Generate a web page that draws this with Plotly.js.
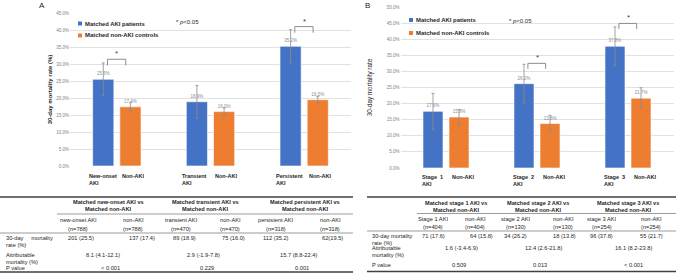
<!DOCTYPE html>
<html>
<head>
<meta charset="utf-8">
<script src="https://cdn.plot.ly/plotly-3.0.1.min.js"></script>
<style>html,body{margin:0;padding:0;background:#fff;}#chart{width:676px;height:278px;}</style>
</head>
<body>
<div id="chart"></div>
<script>
// ---------- DATA: panel A ----------
const catsA = [0, 1, 2];
const akiLabelsA = ['New-onset<br>AKI', 'Transient<br>AKI', 'Persistent<br>AKI'];
const ctrlLabelsA = ['Non-AKI', 'Non-AKI', 'Non-AKI'];
const akiA = [25.5, 18.9, 35.2];
const akiErrA = [4.8, 4.8, 4.9];
const ctrlA = [17.4, 16.0, 19.5];
const ctrlErrA = [1.2, 1.1, 1.0];
const bracketA = [31.4, null, 41.0];

// ---------- DATA: panel B ----------
const catsB = [0, 1, 2];
const akiLabelsB = ['Stage  1<br>AKI', 'Stage  2<br>AKI', 'Stage  3<br>AKI'];
const ctrlLabelsB = ['Non-AKI', 'Non-AKI', 'Non-AKI'];
const akiB = [17.6, 26.2, 37.8];
const akiErrB = [5.6, 6.0, 6.0];
const ctrlB = [15.8, 13.8, 21.7];
const ctrlErrB = [2.4, 2.6, 3.2];
const bracketB = [null, 32.5, 44.9];

const seriesNames = ['Matched AKI patients', 'Matched non-AKI controls'];
const sigNote = '* <i>p</i>&lt;0.05';

// ---------- DATA: tables ----------
const rowLabelsA = ['30-day&nbsp;&nbsp;&nbsp;&nbsp;&nbsp;mortality<br>rate (%)', 'Attributable<br>mortality (%)', 'P value'];
const rowLabelsB = ['30-day mortality<br>rate (%)', 'Attributable<br>mortality (%)', 'P value'];
const tblAHeaders = ['Matched new-onset AKI vs<br>Matched non-AKI', 'Matched transient AKI vs<br>Matched non-AKI', 'Matched persistent AKI vs<br>Matched non-AKI'];
const tblACols = ['new-onset AKI', 'non-AKI', 'transient AKI', 'non-AKI', 'persistent AKI', 'non-AKI'];
const tblANs = ['(n=788)', '(n=788)', '(n=470)', '(n=470)', '(n=318)', '(n=318)'];
const tblAMort = ['201 (25.5)', '137 (17.4)', '89 (18.9)', '75 (16.0)', '112 (35.2)', '62(19.5)'];
const tblAAttr = ['8.1 (4.1-12.1)', '2.9 (-1.9-7.8)', '15.7 (8.8-22.4)'];
const tblAP = ['&lt; 0.001', '0.229', '0.001'];
const tblBHeaders = ['Matched stage 1 AKI vs<br>Matched non-AKI', 'Matched stage 2 AKI vs<br>Matched non-AKI', 'Matched stage 3 AKI vs<br>Matched non-AKI'];
const tblBCols = ['Stage 1 AKI', 'non-AKI', 'stage 2 AKI', 'non-AKI', 'stage 3 AKI', 'non-AKI'];
const tblBNs = ['(n=404)', '(n=404)', '(n=130)', '(n=130)', '(n=254)', '(n=254)'];
const tblBMort = ['71 (17.6)', '64 (15.8)', '34 (26.2)', '18 (13.8)', '96 (37.8)', '55 (21.7)'];
const tblBAttr = ['1.6 (-3.4-6.9)', '12.4 (2.6-21.8)', '16.1 (8.2-23.8)'];
const tblBP = ['0.509', '0.013', '&lt; 0.001'];

// ---------- LAYOUT CONSTANTS ----------
const W = 676, H = 278;
const px = v => v / W;
const py = v => 1 - v / H;
const FONT = 'Liberation Sans, Arial, sans-serif';
const BLUE = '#4472C4', ORANGE = '#ED7D31';

const data = [];
function addBars(x, y, err, color, offset, width, xa, ya, name) {
  data.push({
    type: 'bar', x: x, y: y, xaxis: xa, yaxis: ya, name: name,
    width: width, offset: offset,
    marker: {color: color, line: {color: '#ffffff', width: 0.6}},
    error_y: {type: 'data', array: err, visible: true, color: '#8c8c8c', thickness: 0.8, width: 1.5},
    texttemplate: '%{y:.1f}%', textposition: 'outside', constraintext: 'none',
    textfont: {size: 4.5, color: '#8c8c8c', family: FONT},
    cliponaxis: false, showlegend: false, hoverinfo: 'x+y'
  });
}
addBars(catsA, akiA, akiErrA, BLUE, -0.258, 0.226, 'x', 'y', seriesNames[0]);
addBars(catsA, ctrlA, ctrlErrA, ORANGE, 0.032, 0.226, 'x', 'y', seriesNames[1]);
addBars(catsB, akiB, akiErrB, BLUE, -0.253, 0.22, 'x2', 'y2', seriesNames[0]);
addBars(catsB, ctrlB, ctrlErrB, ORANGE, 0.033, 0.22, 'x2', 'y2', seriesNames[1]);

const shapes = [];
const annotations = [];

function txt(x, y, text, o) {
  o = o || {};
  annotations.push(Object.assign({
    x: x, y: y, xref: 'paper', yref: 'paper', text: text, showarrow: false,
    xanchor: 'center', yanchor: 'middle', borderpad: 0,
    font: {family: FONT, size: 5.7, color: '#262626'}
  }, o));
}
// multi-line text positioned line by line (x,y in pixels)
function ml(xp, yp, text, step, o) {
  text.split('<br>').forEach((t, k) => txt(px(xp), py(yp + k * step), t, o));
}
function hline(x0, x1, y, w, c) {
  shapes.push({type: 'line', xref: 'paper', yref: 'paper', x0: px(x0), x1: px(x1), y0: py(y), y1: py(y),
    line: {color: c || '#404040', width: w}});
}

// significance brackets and stars
function brackets(vals, xa, ya, leg) {
  vals.forEach((h, i) => {
    if (h === null) return;
    const l = catsA[i] - 0.1, r = catsA[i] + 0.095;
    shapes.push({type: 'path', xref: xa, yref: ya,
      path: `M ${l},${h - leg} L ${l},${h} L ${r},${h} L ${r},${h - leg}`,
      line: {color: '#8c8c8c', width: 1}});
    annotations.push({x: catsA[i], y: h, xref: xa, yref: ya, text: '*', showarrow: false,
      yanchor: 'bottom', yshift: -1, font: {family: FONT, size: 8, color: '#404040'}});
  });
}
brackets(bracketA, 'x', 'y', 1.8);
brackets(bracketB, 'x2', 'y2', 1.7);

// category labels under bars
function catLabels(cats, akiL, ctrlL, xa, offA, offC, yTop) {
  const f = {family: FONT, size: 5.5, color: '#262626', weight: 'bold'};
  cats.forEach((c, i) => {
    annotations.push({x: c + offA, y: py(yTop), xref: xa, yref: 'paper', text: akiL[i], showarrow: false,
      xanchor: 'left', yanchor: 'top', align: 'left', borderpad: 0, font: f});
    annotations.push({x: c + offC, y: py(yTop), xref: xa, yref: 'paper', text: ctrlL[i], showarrow: false,
      xanchor: 'left', yanchor: 'top', align: 'left', borderpad: 0, font: f});
  });
}
catLabels(catsA, akiLabelsA, ctrlLabelsA, 'x', -0.31, 0.04, 172);
catLabels(catsB, akiLabelsB, ctrlLabelsB, 'x2', -0.27, 0.055, 173);

// manual legends
function legendItem(cx, cy, color, label) {
  shapes.push({type: 'rect', xref: 'paper', yref: 'paper', x0: px(cx - 2), x1: px(cx + 2), y0: py(cy + 2), y1: py(cy - 2),
    fillcolor: color, line: {width: 0}});
  txt(px(cx + 4), py(cy), label, {xanchor: 'left', font: {family: FONT, size: 5.9, color: '#262626', weight: 'bold'}});
}
legendItem(80, 23.5, BLUE, seriesNames[0]);
legendItem(80, 35.5, ORANGE, seriesNames[1]);
legendItem(411, 20, BLUE, seriesNames[0]);
legendItem(411, 33, ORANGE, seriesNames[1]);
txt(px(175), py(22.5), sigNote, {xanchor: 'left', font: {family: FONT, size: 6, color: '#262626'}});
txt(px(508), py(21), sigNote, {xanchor: 'left', font: {family: FONT, size: 6, color: '#262626'}});

// panel letters
txt(px(41.5), py(5.5), 'A', {font: {family: FONT, size: 8, color: '#262626'}});
txt(px(367.5), py(5.5), 'B', {font: {family: FONT, size: 8, color: '#262626'}});

// ---------- TABLE A ----------
const hdrXA = [108, 205, 305], colXA = [78, 133, 181, 230, 276, 330];
const mortXA = [81, 142, 184, 233, 276, 332], attrXA = [103, 203, 298], pXA = [110, 207, 302];
hline(0, 353, 197, 1.3);
hline(57, 353, 214, 0.6, '#595959');
hline(0, 353, 233, 0.6, '#595959');
hline(0, 353, 272, 1.3);
tblAHeaders.forEach((t, i) => ml(hdrXA[i], 202, t, 7, {font: {family: FONT, size: 5.6, color: '#262626', weight: 'bold'}}));
tblACols.forEach((t, i) => ml(colXA[i], 220, t, 7));
tblANs.forEach((t, i) => ml(colXA[i], 229, t, 7));
ml(5, 238, rowLabelsA[0], 7, {xanchor: 'left'});
ml(5, 255, rowLabelsA[1], 7, {xanchor: 'left'});
ml(5, 268, rowLabelsA[2], 7, {xanchor: 'left'});
tblAMort.forEach((t, i) => ml(mortXA[i], 238, t, 7));
tblAAttr.forEach((t, i) => ml(attrXA[i], 255, t, 7));
tblAP.forEach((t, i) => ml(pXA[i], 268, t, 7));

// ---------- TABLE B ----------
const hdrXB = [456, 538, 628], colXB = [433, 475, 516, 563, 602, 651];
const mortXB = [434, 481, 515, 564, 601, 651], attrXB = [461, 543, 633], pXB = [459, 540, 633];
hline(367, 676, 197, 1.3);
hline(417, 676, 213.5, 0.6, '#595959');
hline(367, 676, 231, 0.6, '#595959');
hline(367, 676, 271.5, 1.3);
tblBHeaders.forEach((t, i) => ml(hdrXB[i], 202.5, t, 7, {font: {family: FONT, size: 5.6, color: '#262626', weight: 'bold'}}));
tblBCols.forEach((t, i) => ml(colXB[i], 219, t, 7));
tblBNs.forEach((t, i) => ml(colXB[i], 226.5, t, 7));
ml(371, 236, rowLabelsB[0], 7, {xanchor: 'left'});
ml(371, 248, rowLabelsB[1], 7, {xanchor: 'left'});
ml(371, 265, rowLabelsB[2], 7, {xanchor: 'left'});
tblBMort.forEach((t, i) => ml(mortXB[i], 236, t, 7));
tblBAttr.forEach((t, i) => ml(attrXB[i], 248, t, 7));
tblBP.forEach((t, i) => ml(pXB[i], 265, t, 7));

const yax = {
  dtick: 5, tick0: 0, tickformat: '.1f', ticksuffix: '%', ticks: '',
  gridcolor: '#d9d9d9', gridwidth: 0.8, zeroline: false, showline: false, automargin: false,
  tickfont: {family: FONT, size: 4.5, color: '#7f7f7f'}, fixedrange: true
};
const xax = {range: [-0.5, 2.5], showgrid: false, zeroline: false, showticklabels: false, ticks: '', fixedrange: true, automargin: false};

const layout = {
  width: W, height: H, margin: {l: 0, r: 0, t: 0, b: 0, pad: 0},
  paper_bgcolor: '#ffffff', plot_bgcolor: 'rgba(0,0,0,0)',
  showlegend: false, barmode: 'overlay',
  font: {family: FONT, size: 6, color: '#262626'},
  xaxis: Object.assign({}, xax, {domain: [px(70), px(351)], anchor: 'y'}),
  yaxis: Object.assign({}, yax, {domain: [py(166), py(13)], range: [0, 45], anchor: 'x',
    title: {text: '30-day mortality rate (%)', standoff: 3, font: {family: FONT, size: 6, color: '#262626', weight: 'bold'}}}),
  xaxis2: Object.assign({}, xax, {domain: [px(400.5), px(673.5)], anchor: 'y2'}),
  yaxis2: Object.assign({}, yax, {domain: [py(168), py(7)], range: [0, 50], anchor: 'x2',
    title: {text: '30-day mortality rate', standoff: 13, font: {family: FONT, size: 6.3, color: '#262626'}}}),
  shapes: shapes,
  annotations: annotations
};

Plotly.newPlot('chart', data, layout, {displayModeBar: false, staticPlot: true});
</script>
</body>
</html>
